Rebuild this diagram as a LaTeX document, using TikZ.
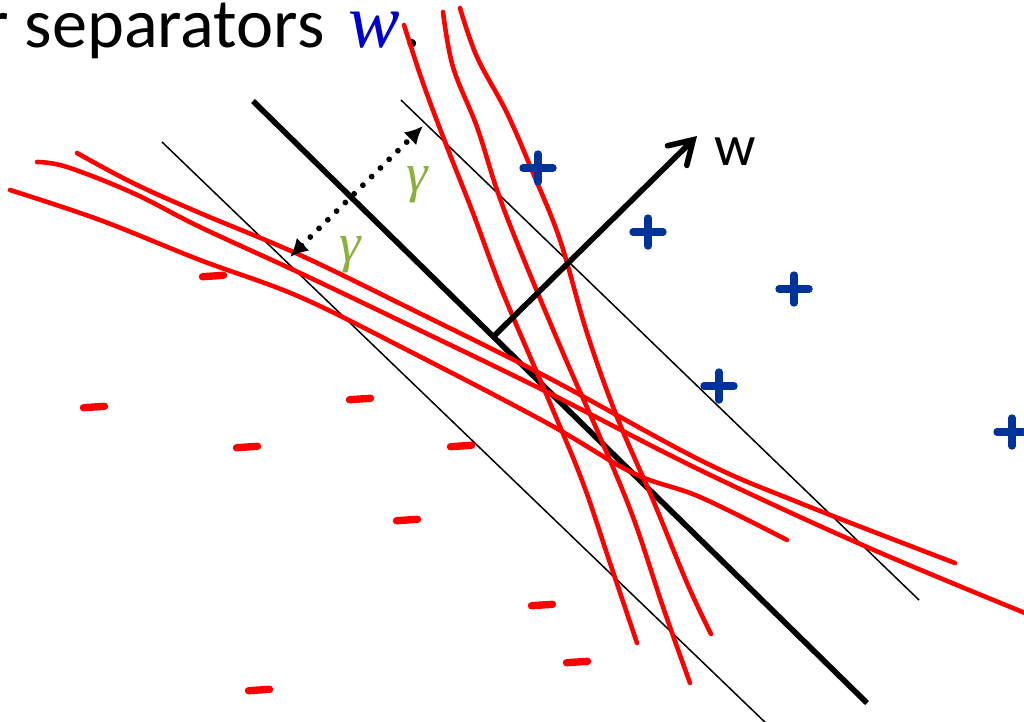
\documentclass[tikz,border=0pt]{standalone}
\usepackage{fontspec}
\setmainfont{Carlito}
\newfontfamily\serifit{Liberation Serif}
\usetikzlibrary{arrows.meta}
\definecolor{plusblue}{RGB}{0,51,153}
\definecolor{gammagreen}{RGB}{137,176,58}
\definecolor{wblue}{RGB}{0,0,204}
\definecolor{curvered}{RGB}{255,0,0}
\begin{document}
\begin{tikzpicture}[x=0.02cm,y=-0.02cm,
  thickline/.style={line width=3.2pt},
  thinline/.style={line width=0.85pt},
  redcurve/.style={curvered,line width=2.6pt,line cap=round,line join=round},
  plusmark/.style={plusblue,line width=4.2pt,line cap=round},
  minusmark/.style={curvered,line width=4.2pt,line cap=round},
  marginarrow/.style={line width=3.3pt,line cap=round,dash pattern=on 0pt off 7pt,
    {Latex[length=0.36cm,width=0.36cm]}-{Latex[length=0.36cm,width=0.36cm]}},
  gammalabel/.style={text=gammagreen,font=\serifit\itshape\fontsize{31}{31}\selectfont,inner sep=0pt}]
\useasboundingbox (0,0) rectangle (1024,721);
\clip (0,0) rectangle (1024,721);

% title
\node[anchor=base west,inner sep=0pt,font=\fontsize{40}{40}\selectfont] (title) at (-16,47)
  {r separators\hspace{0.12em} {\color{wblue}\serifit\itshape\fontsize{44}{44}\selectfont w}\hspace{0.04em}.};

% separator lines
\coordinate (t1) at (253,101);
\coordinate (t2) at (867,703);
\coordinate (l1) at (162,142);
\coordinate (l2) at (770,727);
\coordinate (r1) at (401,100);
\coordinate (r2) at (919,600);
\draw[thinline] (l1) -- (l2);
\draw[thinline] (r1) -- (r2);
\draw[thickline] (t1) -- (t2);

% red curves
\draw[redcurve] plot[smooth,tension=0.6] coordinates {(77,153) (133,183) (200,213) (300,255) (413,310) (547,377) (700,460) (800,503) (955,563)};
\draw[redcurve] plot[smooth,tension=0.6] coordinates {(37,162) (67,167) (133,193) (200,227) (300,273) (413,327) (547,392) (700,470) (867,547) (1030,615)};
\draw[redcurve] plot[smooth,tension=0.6] coordinates {(10,190) (100,220) (200,260) (300,297) (413,353) (547,423) (633,473) (700,497) (787,540)};
\draw[redcurve] plot[smooth,tension=0.6] coordinates {(404,25) (423,83) (447,147) (473,213) (503,293) (550,403) (583,483) (610,563) (637,643)};
\draw[redcurve] plot[smooth,tension=0.6] coordinates {(443,12) (453,67) (477,127) (497,190) (520,250) (563,353) (600,437) (633,517) (663,607) (690,683)};
\draw[redcurve] plot[smooth,tension=0.6] coordinates {(460,8) (477,57) (507,113) (533,173) (560,240) (587,333) (617,417) (653,500) (687,583) (711,634)};

% normal vector w
\coordinate (wbase) at (494,336);
\coordinate (wtip) at (697,136);
\draw[thickline,-{Straight Barb[length=0.45cm,width=0.55cm,line cap=round]}] (wbase) -- (wtip);
\node[font=\fontsize{33}{33}\selectfont,inner sep=0pt] (wlabel) at (735,152) {w};

% margin arrow
\coordinate (g1) at (290,257);
\coordinate (g2) at (423,126);
\draw[marginarrow] (g1) -- (g2);
\node[gammalabel] (gtop) at (417,185) {γ};
\node[gammalabel] (gbot) at (350,255) {γ};

% positive points
\foreach \x/\y in {538/168, 648/232, 794/289, 719/386, 1012/432}
  \draw[plusmark] ({\x-15},\y) -- ({\x+15},\y) ({\x},{\y-14}) -- ({\x},{\y+14});

% negative points
\foreach \x/\y in {213/276, 94/407, 360/399, 247/447, 461/446, 407/520, 542/605, 577/662, 259/690}
  \draw[minusmark] ({\x-10.5},{\y+0.7}) -- ({\x+10.5},{\y-0.7});
\end{tikzpicture}
\end{document}
